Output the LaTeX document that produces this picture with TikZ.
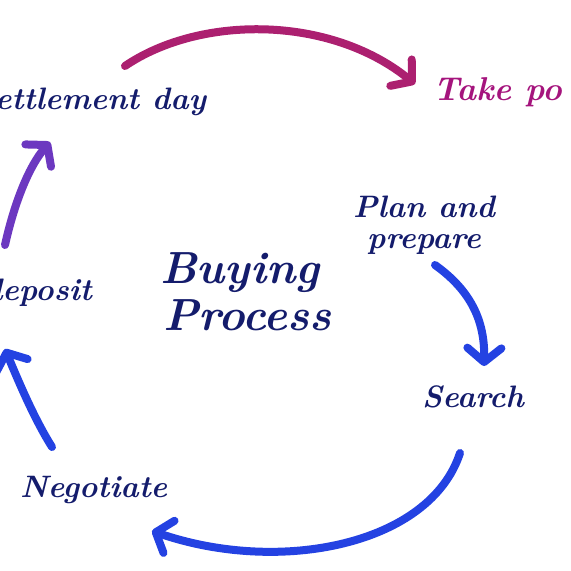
\documentclass[tikz,border=0pt]{standalone}
\usepackage{tikz}
\usetikzlibrary{arrows.meta}

\definecolor{inkblue}{RGB}{20,28,108}
\definecolor{inkmagenta}{RGB}{165,20,125}
\definecolor{arrowmagenta}{RGB}{172,32,112}
\definecolor{arrowpurple}{RGB}{108,56,192}
\definecolor{arrowblue}{RGB}{36,66,226}

\begin{document}
\begin{tikzpicture}[x=1pt, y=-1pt,
        stagetext/.style={inkblue, font=\fontsize{31}{34}\selectfont\bfseries\itshape, inner sep=0pt, anchor=base west},
        titletext/.style={inkblue, font=\fontsize{45}{48}\selectfont\bfseries\itshape, inner sep=0pt, anchor=base west},
        cyclearrow/.style={line width=8pt, line cap=round, -{Straight Barb[length=14pt, width=34pt, round]}}]
            \useasboundingbox[fill=white] (0,0) rectangle (571,571);

            % the stages round the cycle
            \node [stagetext] (settle) at (-5,109) {ettlement day};
            \node [stagetext, inkmagenta, font=\fontsize{33}{36}\selectfont\bfseries\itshape] (take) at (433,100) {Take po};
            \node [stagetext, anchor=north, align=center] (plan) at (424,196) {Plan and\\[-3pt]prepare};
            \node [stagetext] (search) at (422,407) {Search};
            \node [stagetext] (negotiate) at (20,497) {Negotiate};
            \node [stagetext, anchor=base east] (deposit) at (92,300) {deposit};

            \node [titletext] (buying) at (160,283) {Buying};
            \node [titletext] (process) at (163,330) {Process};

            % free ends of the arrows
            \coordinate (settle out) at (125,66);
            \coordinate (take in) at (415,84);
            \coordinate (plan out) at (435,265);
            \coordinate (search in) at (484,366);
            \coordinate (search out) at (460,453);
            \coordinate (negotiate in) at (152,531);
            \coordinate (negotiate out) at (52,447);
            \coordinate (deposit in) at (5,349);
            \coordinate (deposit out) at (5,245);
            \coordinate (settle in) at (50,142);

            \draw [cyclearrow, arrowmagenta] (settle out) .. controls (200,15) and (330,15) .. (take in);
            \draw [cyclearrow, arrowblue] (plan out) .. controls (470,290) and (485,320) .. (search in);
            \draw [cyclearrow, arrowblue] (search out) .. controls (430,545) and (280,575) .. (negotiate in);
            \draw [cyclearrow, arrowblue] (negotiate out) .. controls (35,420) and (20,385) .. (deposit in);
            \draw [cyclearrow, arrowpurple] (deposit out) .. controls (15,200) and (30,165) .. (settle in);
        \end{tikzpicture}
\end{document}
